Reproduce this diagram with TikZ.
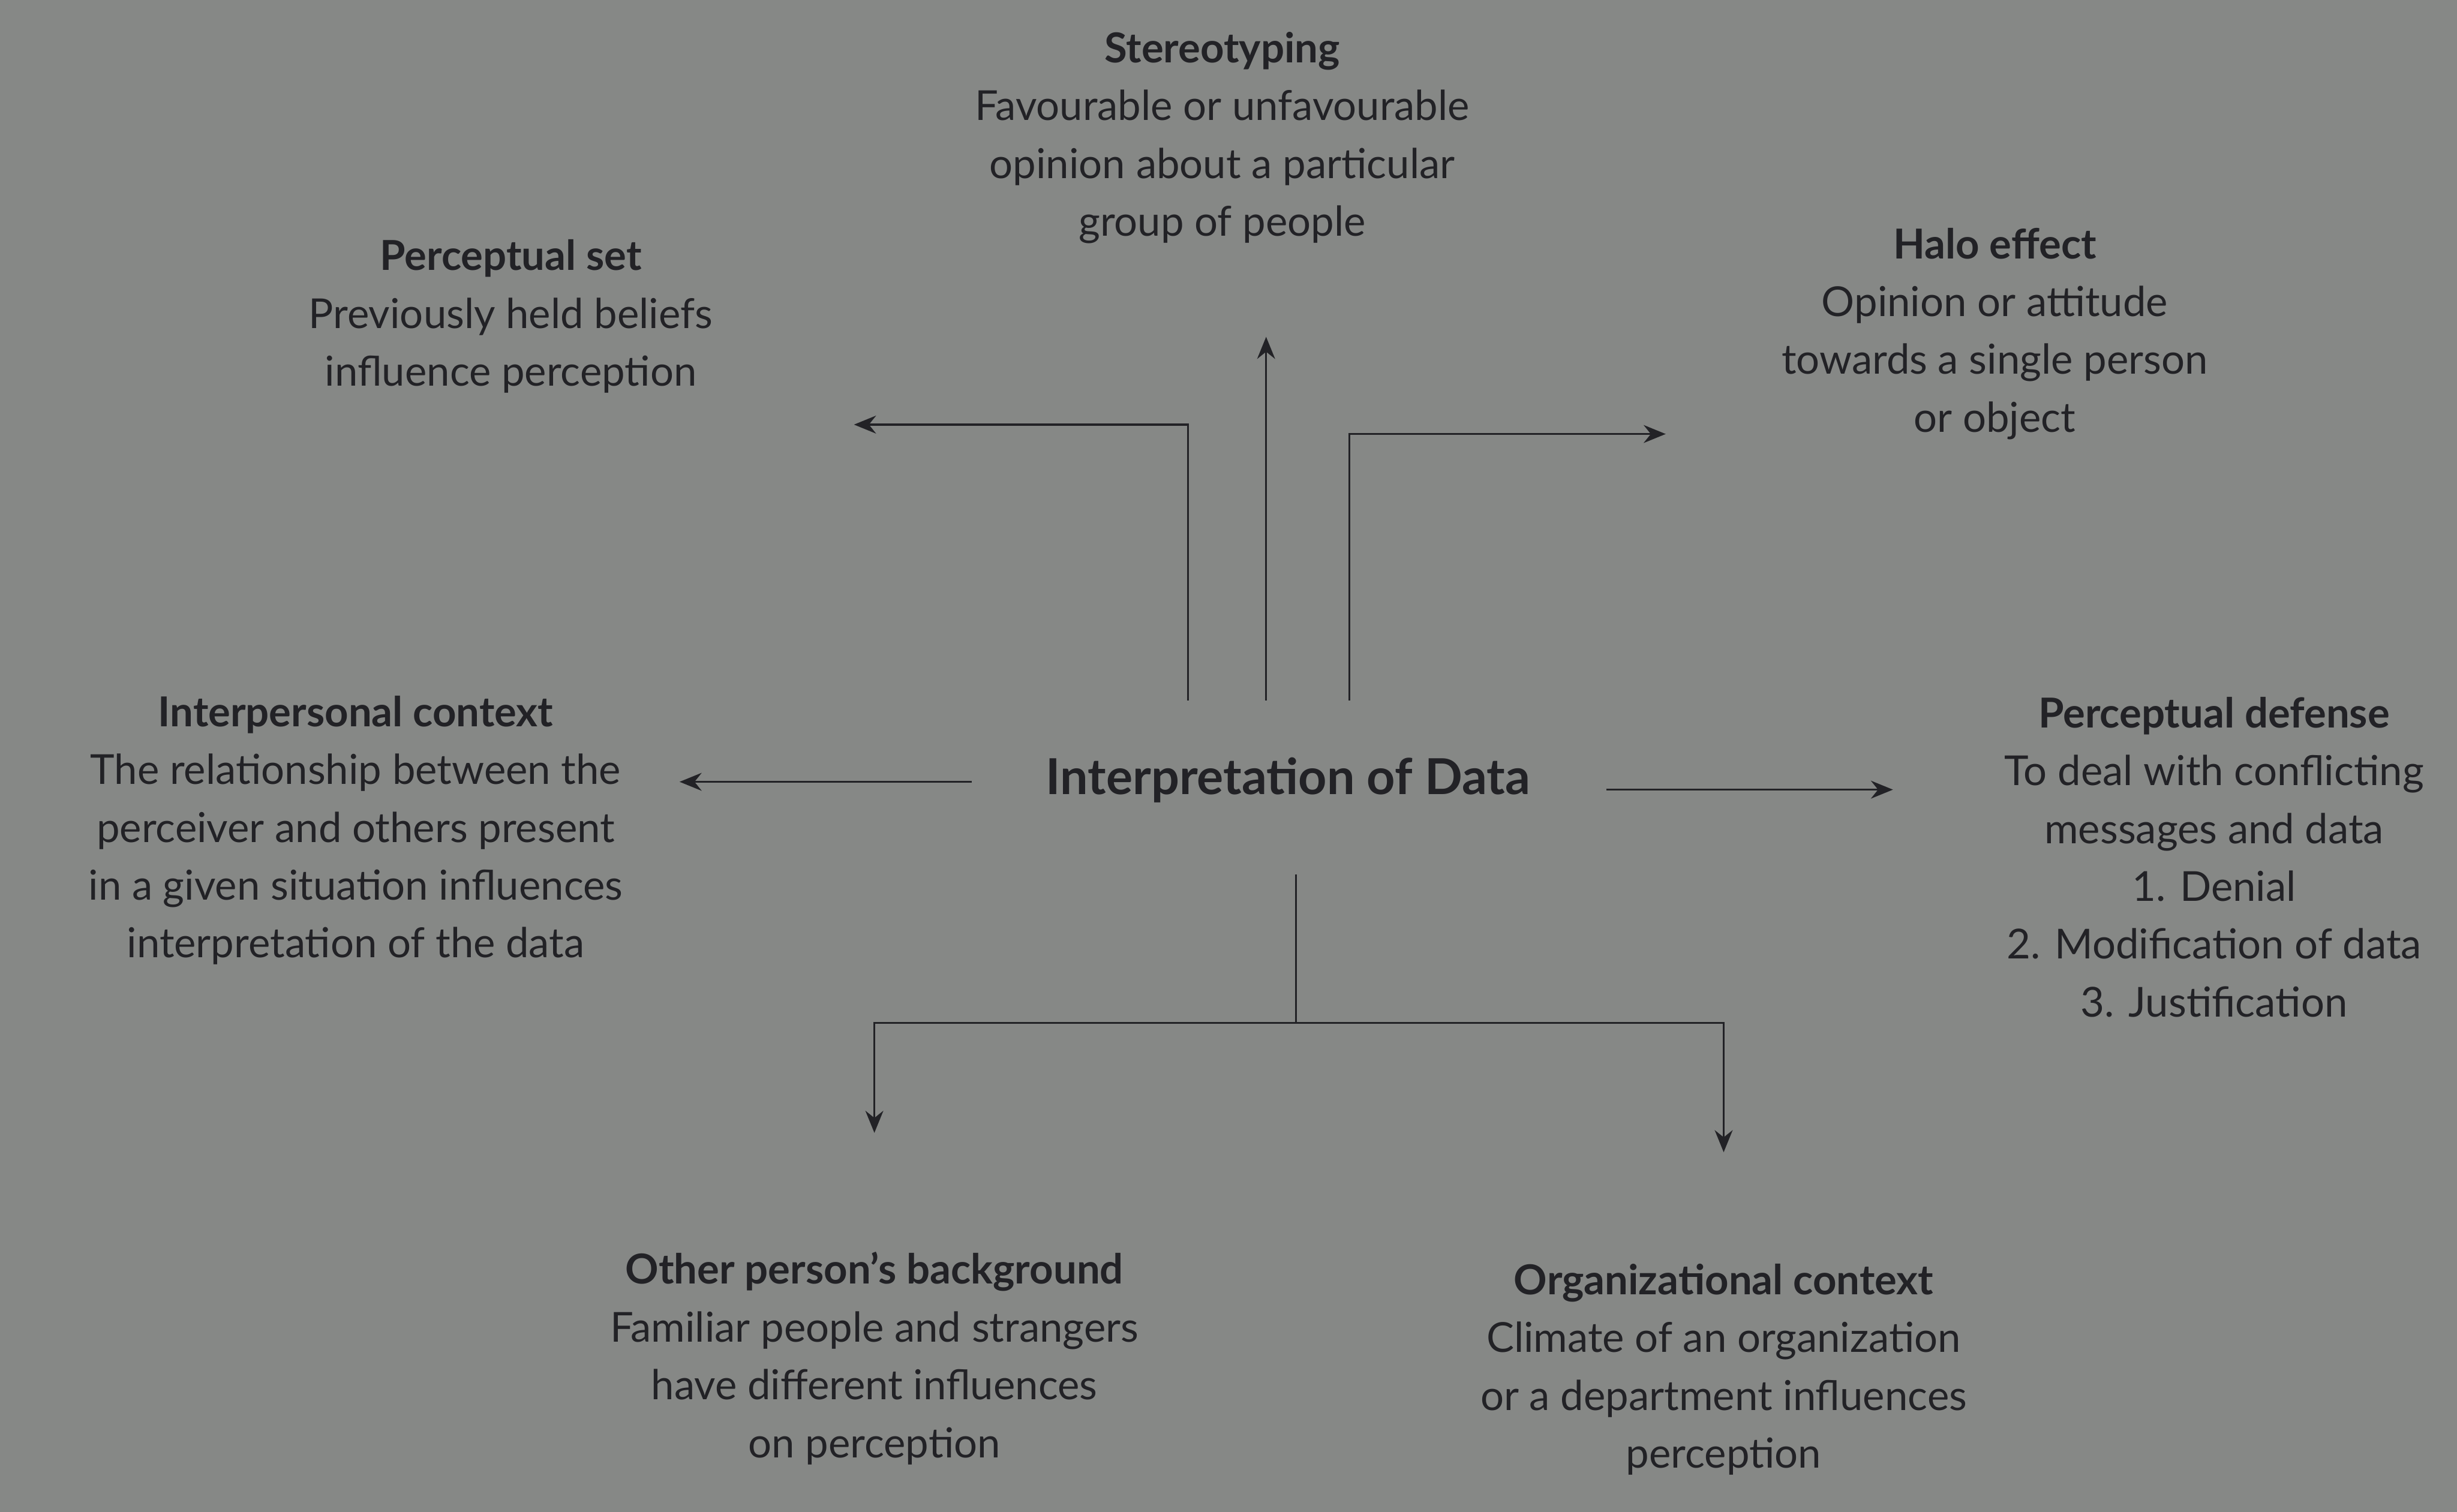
\documentclass[tikz,border=0pt]{standalone}
\usepackage{fontspec}
\setmainfont{Lato}
\usetikzlibrary{arrows.meta, positioning}
\definecolor{paper}{RGB}{134,136,134}
\definecolor{ink}{RGB}{34,34,38}
\tikzstyle{factor} = [align=center, text=ink, font=\fontsize{15}{21}\selectfont]
\tikzstyle{core} = [text=ink, font=\fontsize{18}{21}\selectfont\bfseries]
\tikzstyle{arrow} = [draw=ink, line width=0.7pt, ->, >={Stealth[length=8pt, width=6.5pt]}]
\tikzstyle{link} = [draw=ink, line width=0.7pt]

\begin{document}
\begin{tikzpicture}[x=0.02cm, y=-0.02cm]

\fill[paper] (0,0) rectangle (1568,965);
\useasboundingbox (0,0) rectangle (1568,965);

\node (data) [core] at (822,498) {Interpretation of Data};
\node (stereo) [factor] at (780,88) {\textbf{Stereotyping}\\Favourable or unfavourable\\opinion about a particular\\group of people};
\node (percset) [factor] at (326,202) {\textbf{Perceptual set}\\Previously held beliefs\\influence perception};
\node (halo) [factor] at (1273,213) {\textbf{Halo effect}\\Opinion or attitude\\towards a single person\\or object};
\node (interp) [factor] at (227,530) {\textbf{Interpersonal context}\\The relationship between the\\perceiver and others present\\in a given situation influences\\interpretation of the data};
\node (defense) [factor] at (1413,547) {\textbf{Perceptual defense}\\To deal with conflicting\\messages and data\\1. Denial\\2. Modification of data\\3. Justification};
\node (backgr) [factor] at (558,867) {\textbf{Other person's background}\\Familiar people and strangers\\have different influences\\on perception};
\node (orgctx) [factor] at (1100,874) {\textbf{Organizational context}\\Climate of an organization\\or a department influences\\perception};

% free ends of the connectors
\coordinate (top l) at (758,447);
\coordinate (top c) at (808,447);
\coordinate (top r) at (861,447);
\coordinate (end l) at (545,271);
\coordinate (end c) at (808,215);
\coordinate (end r) at (1063,277);
\coordinate (side l) at (620,499);
\coordinate (side r) at (1025,504);
\coordinate (foot) at (827,558);
\coordinate (fork) at (827,653);

\draw [arrow] (top l) |- (end l);
\draw [arrow] (top c) -- (end c);
\draw [arrow] (top r) |- (end r);
\draw [arrow] (side l) -- ([xshift=0.6cm]interp.east |- side l);
\draw [arrow] (side r) -- ([xshift=-1.3cm]defense.west |- side r);
\draw [link] (foot) -- (fork);
\draw [arrow] (fork) -| ([yshift=1.4cm]backgr.north);
\draw [arrow] (fork) -| ([yshift=1.3cm]orgctx.north);

\end{tikzpicture}
\end{document}
